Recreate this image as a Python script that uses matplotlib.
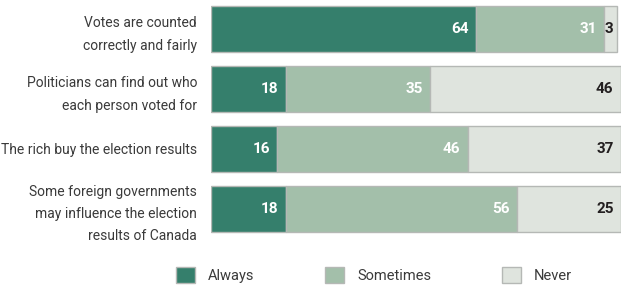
import matplotlib
matplotlib.use("Agg")
import matplotlib.pyplot as plt
from matplotlib.patches import Patch

categories = [
    "Votes are counted\ncorrectly and fairly",
    "Politicians can find out who\neach person voted for",
    "The rich buy the election results",
    "Some foreign governments\nmay influence the election\nresults of Canada",
]
always = [64, 18, 16, 18]
sometimes = [31, 35, 46, 56]
never = [3, 46, 37, 25]
series_names = ["Always", "Sometimes", "Never"]
colors = ["#357f6c", "#a3bfaa", "#dfe4de"]
label_colors = ["white", "white", "#231f20"]

plt.rcParams['font.family'] = ["Roboto", "DejaVu Sans"]

W, H = 629, 290
fig = plt.figure(figsize=(W/100, H/100), dpi=100)
ax = fig.add_axes([211/W, (H-238.5)/H, (621-211)/W, 239.5/H])

y = list(range(len(categories)))
left = [0]*len(categories)
for vals, col, lc in zip([always, sometimes, never], colors, label_colors):
    ax.barh(y, vals, left=left, height=0.77, color=col, edgecolor="#b5b8b5", linewidth=1.0)
    for i, (l, v) in enumerate(zip(left, vals)):
        pad = 0.8 if v < 5 else 1.8
        ax.text(l + v - pad, i, str(v), ha="right", va="center", color=lc,
                fontsize=11, fontweight="bold")
    left = [a + b for a, b in zip(left, vals)]

ax.set_xlim(0, 99)
ax.set_ylim(len(categories) - 0.5, -0.5)
ax.set_yticks(y)
ax.set_yticklabels(categories, fontsize=10, color="#3a3a3a", linespacing=1.75)
ax.tick_params(axis="y", length=0, pad=10)
ax.set_xticks([])
for s in ax.spines.values():
    s.set_visible(False)

handles = [Patch(facecolor=c, edgecolor="#b5b8b5", linewidth=1.0) for c in colors]
fig.legend(handles, series_names, loc="center", bbox_to_anchor=(374/W, (H-275)/H),
           ncol=3, frameon=False, fontsize=10.5, handlelength=1.3, handleheight=1.3,
           handletextpad=0.9, columnspacing=4.85, labelcolor="#3a3a3a")

fig.savefig("out.png", dpi=100)
